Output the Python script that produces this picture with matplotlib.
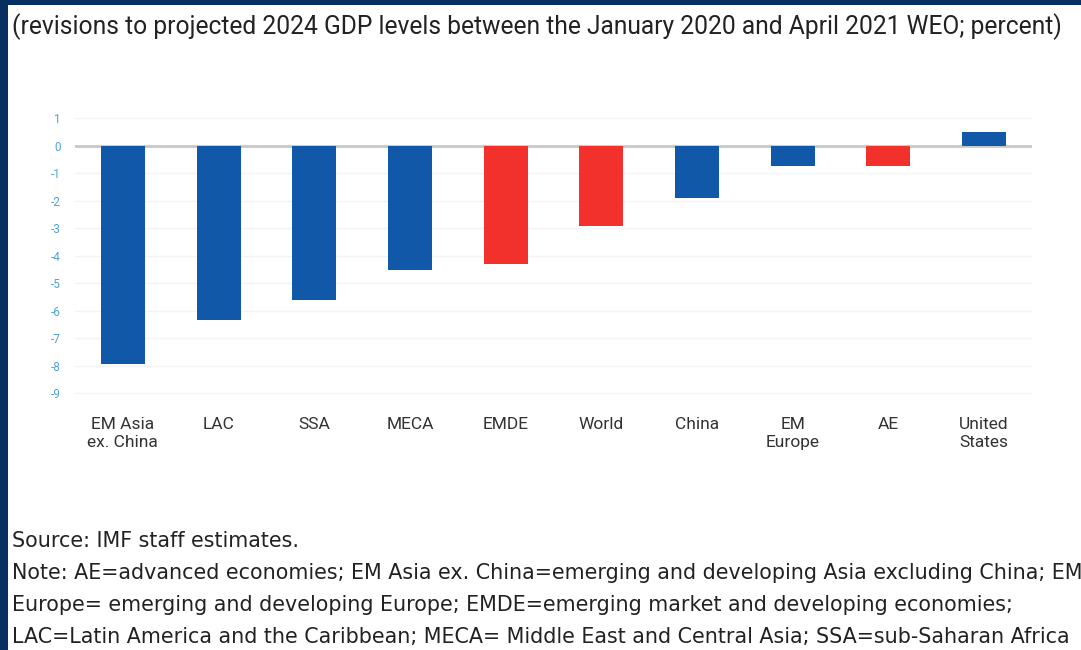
import numpy as np
import matplotlib
matplotlib.use("Agg")
import matplotlib.pyplot as plt
from matplotlib.patches import Rectangle

categories = ["EM Asia\nex. China", "LAC", "SSA", "MECA", "EMDE", "World",
              "China", "EM\nEurope", "AE", "United\nStates"]
values = [-7.95, -6.35, -5.6, -4.5, -4.3, -2.9, -1.9, -0.75, -0.75, 0.5]
highlight = [False, False, False, False, True, True, False, False, True, False]
yticks = list(range(1, -10, -1))

title = "(revisions to projected 2024 GDP levels between the January 2020 and April 2021 WEO; percent)"
source = "Source: IMF staff estimates."
notes = [
    "Note: AE=advanced economies; EM Asia ex. China=emerging and developing Asia excluding China; EM",
    "Europe= emerging and developing Europe; EMDE=emerging market and developing economies;",
    "LAC=Latin America and the Caribbean; MECA= Middle East and Central Asia; SSA=sub-Saharan Africa",
]

plt.rcParams['font.family'] = ['Roboto', 'DejaVu Sans']

W, H = 1081, 650
fig = plt.figure(figsize=(W / 100, H / 100), dpi=100)
fig.patch.set_facecolor("#06305f")
# white panel inside the navy frame
fig.patches.append(Rectangle((8 / W, 0), 1, 1 - 5 / H, transform=fig.transFigure,
                             facecolor="white", edgecolor="none", zorder=-5))

ax = fig.add_axes([75 / W, 1 - 407 / H, (1032 - 75) / W, (407 - 104.5) / H])
ax.set_facecolor("none")
ax.set_zorder(2)

x = np.arange(len(categories))
colors = ["#f2302c" if h else "#1158a8" for h in highlight]
ax.bar(x, values, width=0.46, color=colors, zorder=3)

ax.set_xlim(-0.5, 9.5)
ax.set_ylim(-9.5, 1.5)
ax.set_yticks(yticks)
ax.set_yticklabels([str(t) for t in yticks], fontsize=8.5, color="#4fa3d9")
ax.tick_params(axis="y", length=0, pad=10)
for t in yticks:
    if t != 0:
        ax.axhline(t, color="#f3f3f3", lw=1, zorder=1)
ax.axhline(0, color="#c8c8c8", lw=2, zorder=2)

ax.set_xticks(x)
ax.set_xticklabels(categories, fontsize=12.5, color="#333333", linespacing=1.25)
ax.tick_params(axis="x", length=0, pad=7)
for s in ax.spines.values():
    s.set_visible(False)

fig.text(12 / W, 1 - 27 / H, title, fontsize=17.7, color="#222222", va="center", ha="left")
fig.text(12 / W, 1 - 541 / H, source, fontsize=14.9, color="#222222", va="center", ha="left",
         family="DejaVu Sans")
for i, line in enumerate(notes):
    fig.text(12 / W, 1 - (573 + 32 * i) / H, line, fontsize=14.9, color="#222222",
             va="center", ha="left", family="DejaVu Sans")

fig.savefig("out.png", dpi=100, facecolor=fig.get_facecolor())
